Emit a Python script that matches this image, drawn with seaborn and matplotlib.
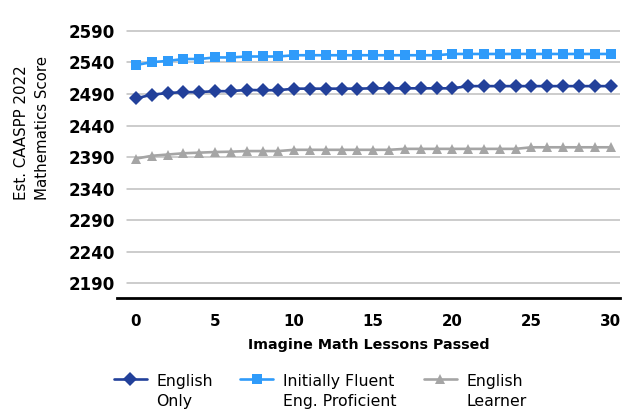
import numpy as np
import pandas as pd
import matplotlib
matplotlib.use("Agg")
import matplotlib.pyplot as plt
import seaborn as sns

# ---- data ----
lessons = list(range(0, 31))
english_only = [2483, 2489, 2491.5, 2493, 2493, 2494.5, 2494.5, 2496.5, 2496, 2496,
                2498.5, 2498.5, 2498.5, 2498.5, 2498.5, 2499, 2499, 2499, 2499, 2499,
                2499, 2502.5, 2502.5, 2502.5, 2502.5, 2502.5, 2502.5, 2502.5, 2502.5, 2502.5,
                2502.5]
ifep = [2536, 2540.5, 2542.5, 2545.5, 2545.5, 2548, 2548, 2549.5, 2549.5, 2549.5,
        2551.5, 2551.5, 2551.5, 2551.5, 2551.5, 2551.5, 2551.5, 2551.5, 2551.5, 2551.5,
        2553.5, 2553.5, 2553.5, 2553.5, 2553.5, 2553.5, 2553.5, 2553.5, 2553.5, 2553.5,
        2553.5]
english_learner = [2387.5, 2392, 2394, 2396, 2397, 2398, 2398.5, 2399.5, 2399.5, 2399.5,
                   2401.5, 2401.5, 2401.5, 2401.5, 2401.5, 2401.5, 2401.5, 2403, 2403, 2403,
                   2403, 2403, 2403, 2403, 2403, 2405.5, 2405.5, 2405.5, 2405.5, 2405.5,
                   2405.5]
series_names = ["English Only", "Initially Fluent Eng. Proficient", "English Learner"]
legend_labels = ["English\nOnly", "Initially Fluent\nEng. Proficient", "English\nLearner"]
y_ticks = [2190, 2240, 2290, 2340, 2390, 2440, 2490, 2540, 2590]
x_ticks = [0, 5, 10, 15, 20, 25, 30]
y_title = "Est. CAASPP 2022\nMathematics Score"
x_title = "Imagine Math Lessons Passed"

colors = {"English Only": "#22409A", "Initially Fluent Eng. Proficient": "#2F9BFA",
          "English Learner": "#A5A5A5"}
markers = {"English Only": "D", "Initially Fluent Eng. Proficient": "s", "English Learner": "^"}
msizes = {"English Only": 7.0, "Initially Fluent Eng. Proficient": 7.0, "English Learner": 7.4}

df = pd.DataFrame({
    "lesson": lessons * 3,
    "score": english_only + ifep + english_learner,
    "group": [series_names[0]] * len(lessons) + [series_names[1]] * len(lessons)
             + [series_names[2]] * len(lessons),
})

sns.set_style("white")
plt.rcParams["font.family"] = ["DejaVu Sans"]
plt.rcParams["text.color"] = "black"
plt.rcParams["xtick.color"] = "black"
plt.rcParams["ytick.color"] = "black"
plt.rcParams["axes.labelcolor"] = "black"

W, H = 629, 413
fig = plt.figure(figsize=(W / 100, H / 100), dpi=100)
ax_l, ax_r, ax_t, ax_b = 117, 620, 21.5, 298.3
ax = fig.add_axes([ax_l / W, 1 - ax_b / H, (ax_r - ax_l) / W, (ax_b - ax_t) / H])

sns.lineplot(data=df, x="lesson", y="score", hue="group", style="group",
             hue_order=series_names, style_order=series_names,
             palette=colors, markers=markers, dashes=False, linewidth=1.9,
             markersize=7, markeredgewidth=0, ax=ax, legend=False)
for line, name in zip(ax.get_lines(), series_names):
    line.set_markersize(msizes[name])

ax.set_xlim(-1.2, 30.6)
ax.set_ylim(2166, 2605)
ax.set_yticks(y_ticks)
ax.set_xticks(x_ticks)
ax.set_yticklabels([str(v) for v in y_ticks], fontsize=12, fontweight="bold")
ax.set_xticklabels([str(v) for v in x_ticks], fontsize=10.8, fontweight="bold")
ax.tick_params(axis="y", length=0, pad=1.5, colors="black")
ax.tick_params(axis="x", length=0, pad=11, colors="black")

for v in y_ticks:
    ax.axhline(v, xmin=10 / (ax_r - ax_l), xmax=1, color="#BFBFBF", lw=1.1, zorder=0)

for s in ["top", "right", "left"]:
    ax.spines[s].set_visible(False)
ax.spines["bottom"].set_color("black")
ax.spines["bottom"].set_linewidth(2.0)

ax.set_xlabel(x_title, fontsize=10.3, fontweight="bold", labelpad=7, color="black")
ax.set_ylabel("")
fig.text(32 / W, 1 - 128 / H, y_title, rotation=90, ha="center", va="center",
         multialignment="left", fontsize=10.8, linespacing=1.5, color="black")

handles = [plt.Line2D([], [], color=colors[n], marker=markers[n], lw=1.9,
                      markersize=msizes[n], markeredgewidth=0)
           for n in series_names]
leg = fig.legend(handles, legend_labels, loc="upper left", bbox_to_anchor=(114 / W, 1 - 374 / H),
                 ncol=3, frameon=False, fontsize=11.3, handlelength=2.1, handletextpad=0.6,
                 columnspacing=1.75, borderpad=0, borderaxespad=0, numpoints=1, labelspacing=0.2)
for t in leg.get_texts():
    t.set_linespacing(1.45)
    t.set_color("black")
for col in leg._legend_handle_box.get_children():
    for item in col.get_children():
        item.align = "top"

fig.savefig("out.png", dpi=100)
